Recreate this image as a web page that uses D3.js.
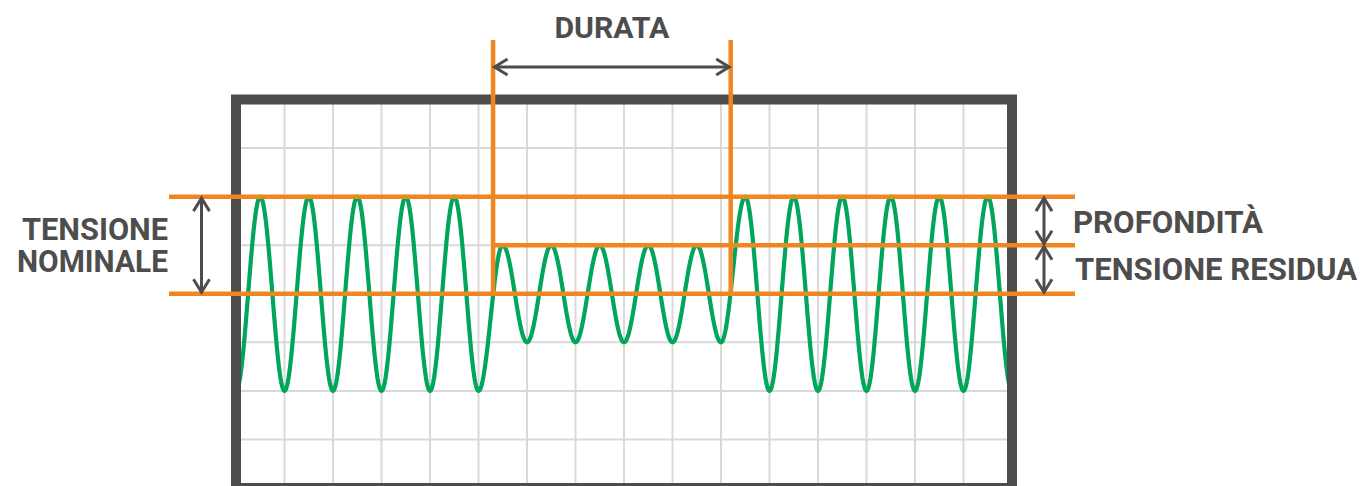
<!DOCTYPE html>
<html>
<head>
<meta charset="utf-8">
<script src="https://cdn.jsdelivr.net/npm/d3@7"></script>
<style>
  html, body { margin: 0; padding: 0; background: #ffffff; }
  svg { display: block; }
  text { font-family: Roboto, "Noto Sans", sans-serif; font-weight: 700; fill: #4d4d4d; }
</style>
</head>
<body>
<svg id="chart" width="1361" height="486"></svg>
<script>
// ---------------- data ----------------
// grid: 16 columns (one per cycle), 8 rows
const gridColumns = [1, 2, 3, 4, 5, 6, 7, 8, 9, 10, 11, 12, 13, 14, 15];
const gridRows = [-1.5, -1, -0.5, 0, 0.5, 1, 1.5];
// half-cycle extrema of the voltage wave (per unit of nominal), one every half cycle from t = 0 to t = 16
const extremaTimes = [0, 0.5, 1, 1.5, 2, 2.5, 3, 3.5, 4, 4.5, 5,
                      5.5, 6, 6.5, 7, 7.5, 8, 8.5, 9, 9.5, 10,
                      10.5, 11, 11.5, 12, 12.5, 13, 13.5, 14, 14.5, 15, 15.5, 16];
const extremaValues = [-1, 1, -1, 1, -1, 1, -1, 1, -1, 1, -1,
                       0.5, -0.5, 0.5, -0.5, 0.5, -0.5, 0.5, -0.5, 0.5, -0.5,
                       1, -1, 1, -1, 1, -1, 1, -1, 1, -1, 1, -1];
// reference levels
const nominalLevel = 1;
const residualLevel = 0.5;
const zeroLevel = 0;
// dip start / end (in cycles)
const dipStart = 5.3;
const dipEnd = 10.2;
// labels
const durationLabel = "DURATA";
const nominalLabel = ["TENSIONE", "NOMINALE"];
const depthLabel = "PROFONDITÀ";
const residualLabel = "TENSIONE RESIDUA";

// ---------------- layout ----------------
const svg = d3.select("#chart");
const frame = { x0: 236, x1: 1012, y0: 99.5, y1: 488, stroke: 10 };
const x = d3.scaleLinear().domain([0, 16]).range([frame.x0, frame.x1]);
const y = d3.scaleLinear().domain([-2, 2]).range([frame.y1, frame.y0]);

const ORANGE = "#ef8622";
const DARK = "#4d4d4d";
const GREEN = "#00a65b";
const GRID = "#d9d9d9";

// clip for the wave (inner area of the frame)
svg.append("defs").append("clipPath").attr("id", "inner")
  .append("rect")
  .attr("x", frame.x0 + frame.stroke / 2).attr("y", frame.y0 + frame.stroke / 2)
  .attr("width", frame.x1 - frame.x0 - frame.stroke)
  .attr("height", frame.y1 - frame.y0 - frame.stroke);

// grid
const grid = svg.append("g");
grid.selectAll("line.v").data(gridColumns).join("line")
  .attr("x1", d => x(d)).attr("x2", d => x(d))
  .attr("y1", frame.y0).attr("y2", frame.y1)
  .attr("stroke", GRID).attr("stroke-width", 2);
grid.selectAll("line.h").data(gridRows).join("line")
  .attr("class", "h")
  .attr("y1", d => y(d)).attr("y2", d => y(d))
  .attr("x1", frame.x0).attr("x2", frame.x1)
  .attr("stroke", GRID).attr("stroke-width", 2);

// wave: half-cosine segments between consecutive extrema
const wavePts = [];
for (let i = 0; i < extremaTimes.length - 1; i++) {
  const t0 = extremaTimes[i], t1 = extremaTimes[i + 1];
  const v0 = extremaValues[i], v1 = extremaValues[i + 1];
  const n = 30;
  for (let k = (i === 0 ? 0 : 1); k <= n; k++) {
    const f = k / n;
    const e = (1 - Math.cos(Math.PI * f)) / 2;
    wavePts.push([t0 + (t1 - t0) * f, v0 + (v1 - v0) * e]);
  }
}
svg.append("path")
  .attr("clip-path", "url(#inner)")
  .attr("d", d3.line().x(d => x(d[0])).y(d => y(d[1]))(wavePts))
  .attr("fill", "none").attr("stroke", GREEN).attr("stroke-width", 4.2)
  .attr("stroke-linejoin", "round");

// frame
svg.append("rect")
  .attr("x", frame.x0).attr("y", frame.y0)
  .attr("width", frame.x1 - frame.x0).attr("height", frame.y1 - frame.y0)
  .attr("fill", "none").attr("stroke", DARK).attr("stroke-width", frame.stroke);

// orange reference lines
const lineLeft = 169, lineRight = 1075, vTop = 40;
const orange = svg.append("g").attr("stroke", ORANGE).attr("stroke-width", 4.5);
[nominalLevel, zeroLevel].forEach(v => {
  orange.append("line").attr("x1", lineLeft).attr("x2", lineRight)
    .attr("y1", y(v)).attr("y2", y(v));
});
orange.append("line").attr("x1", x(dipStart)).attr("x2", lineRight)
  .attr("y1", y(residualLevel)).attr("y2", y(residualLevel));
[dipStart, dipEnd].forEach(t => {
  orange.append("line").attr("x1", x(t)).attr("x2", x(t))
    .attr("y1", vTop).attr("y2", y(zeroLevel) + 2.25);
});

// double arrows
function arrow(x1, y1, x2, y2) {
  const g = svg.append("g").attr("stroke", DARK).attr("stroke-width", 3)
    .attr("fill", "none").attr("stroke-linecap", "butt").attr("stroke-linejoin", "miter");
  const a = Math.atan2(y2 - y1, x2 - x1);
  const L = 13, W = 8;
  const tip = 1.5;
  const p1 = [x1 + Math.cos(a) * tip, y1 + Math.sin(a) * tip];
  const p2 = [x2 - Math.cos(a) * tip, y2 - Math.sin(a) * tip];
  g.append("line").attr("x1", p1[0]).attr("y1", p1[1]).attr("x2", p2[0]).attr("y2", p2[1]);
  const head = (p, dir) => {
    const bx = p[0] + Math.cos(a) * L * dir, by = p[1] + Math.sin(a) * L * dir;
    const nx = -Math.sin(a) * W, ny = Math.cos(a) * W;
    g.append("path").attr("d", `M${bx + nx},${by + ny}L${p[0]},${p[1]}L${bx - nx},${by - ny}`);
  };
  head(p1, 1);
  head(p2, -1);
}
arrow(x(dipStart), 67, x(dipEnd), 67);
arrow(201.5, y(nominalLevel), 201.5, y(zeroLevel));
arrow(1044, y(nominalLevel), 1044, y(residualLevel));
arrow(1044, y(residualLevel), 1044, y(zeroLevel));

// labels
function label(txt, tx, ty, anchor, size, len) {
  svg.append("text").text(txt)
    .attr("x", tx).attr("y", ty)
    .attr("text-anchor", anchor)
    .attr("font-size", size)
    .attr("textLength", len)
    .attr("lengthAdjust", "spacingAndGlyphs");
}
label(durationLabel, (x(dipStart) + x(dipEnd)) / 2, 37.7, "middle", 29.5, 115);
label(nominalLabel[0], 168, 239.5, "end", 32, 146);
label(nominalLabel[1], 168, 272, "end", 32, 151);
label(depthLabel, 1073, 232.5, "start", 31.5, 190);
label(residualLabel, 1075, 279.5, "start", 32, 282);
</script>
</body>
</html>
